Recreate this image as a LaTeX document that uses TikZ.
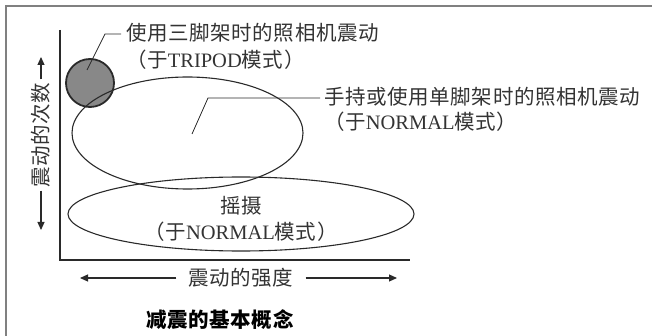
\documentclass[tikz,border=0pt]{standalone}
\usepackage{fontspec}
\setmainfont{Liberation Serif}
\newfontfamily\cjk{Noto Sans CJK SC}[LetterSpace=3]
\usetikzlibrary{shapes.geometric,arrows.meta}
\definecolor{ink}{HTML}{2A2A2A}
\definecolor{txt}{HTML}{333333}
\definecolor{framegray}{HTML}{808080}
\definecolor{dotgray}{HTML}{888888}
\begin{document}
\begin{tikzpicture}[x=1pt,y=-1pt,
  lbl/.style={text=txt,font=\fontsize{20.5}{24}\selectfont,inner sep=0pt},
  ovalshape/.style={ellipse,draw=ink,line width=1.1pt,inner sep=0pt},
  leader/.style={draw=ink,line width=0.8pt},
  axisline/.style={draw=ink,line width=1.4pt},
  arr/.style={draw=ink,line width=1.1pt,-{Triangle[length=8pt,width=7pt]}}]
\useasboundingbox (0,0) rectangle (652,336);
% frame (top and left edges only)
\draw[framegray,line width=2pt] (6,336) -- (6,6.5) -- (652,6.5);
% axes
\coordinate (ytop) at (60,30);
\coordinate (orig) at (60,260);
\coordinate (xend) at (410,260);
\draw[axisline] (ytop) -- (orig) -- (xend);
% tripod circle
\node[circle,fill=dotgray,draw=ink,line width=1.8pt,minimum size=48pt,inner sep=0pt] (tri) at (90,83) {};
% ellipses
\node[ovalshape,minimum width=231pt,minimum height=112pt] (hand) at (187.5,133) {};
\node[ovalshape,minimum width=346pt,minimum height=74pt] (pan) at (241,214) {};
% label 1
\coordinate (p1a) at (87,70);
\coordinate (p1b) at (105,34);
\coordinate (p1c) at (121,34);
\draw[leader] (p1a) -- (p1b) -- (p1c);
\node[lbl,anchor=west] (t1a) at (126,33) {\cjk 使用三脚架时的照相机震动};
\node[lbl,anchor=west] (t1b) at (126,60) {{\cjk （于}TRIPOD{\cjk 模式）}};
% label 2
\coordinate (p2a) at (192,134);
\coordinate (p2b) at (208,98);
\coordinate (p2c) at (320,98);
\draw[leader] (p2a) -- (p2b) -- (p2c);
\node[lbl,anchor=west] (t2a) at (324,97) {\cjk 手持或使用单脚架时的照相机震动};
\node[lbl,anchor=west] (t2b) at (324,122) {{\cjk （于}NORMAL{\cjk 模式）}};
% label 3
\node[lbl] (t3a) at (241,206) {\cjk 摇摄};
\node[lbl] (t3b) at (241,232) {{\cjk （于}NORMAL{\cjk 模式）}};
% y-axis label
\node[lbl,rotate=90,inner xsep=3pt] (ylab) at (41,135) {\cjk 震动的次数};
\coordinate (yup) at (41,57);
\coordinate (ydn) at (41,230);
\draw[arr] (ylab.east) -- (yup);
\draw[arr] (ylab.west) -- (ydn);
% x-axis label
\node[lbl,inner xsep=12pt] (xlab) at (241,278) {\cjk 震动的强度};
\coordinate (xl) at (80,278);
\coordinate (xr) at (397,278);
\draw[arr] (xlab.west) -- (xl);
\draw[arr] (xlab.east) -- (xr);
% caption
\node[lbl,text=black] (cap) at (220,320) {\cjk\bfseries 减震的基本概念};
\end{tikzpicture}
\end{document}
